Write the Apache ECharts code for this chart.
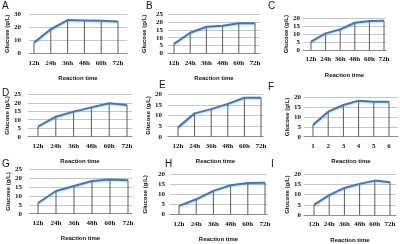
<!DOCTYPE html>
<html>
<head>
<meta charset="utf-8">
<script src="https://cdn.jsdelivr.net/npm/echarts@6/dist/echarts.min.js"></script>
<style>
  html, body { margin: 0; padding: 0; background: #fff; }
  #chart { width: 400px; height: 244px; }
</style>
</head>
<body>
<div id="chart"></div>
<script>
// tick labels
const hours = ['12h', '24h', '36h', '48h', '60h', '72h'];
const steps = ['1', '2', '3', '4', '5', '6'];

// glucose (g/L)
const glucoseA = [8.2, 18.5, 25.6, 25.3, 25.0, 24.5];
const glucoseB = [6.0, 13.2, 17.0, 17.7, 19.2, 19.2];
const glucoseC = [5.3, 10.5, 13.0, 17.2, 18.3, 18.5];
const glucoseD = [5.9, 11.8, 14.8, 17.3, 19.7, 18.7];
const glucoseE = [4.4, 11.0, 13.0, 15.5, 18.4, 18.4];
const glucoseF = [6.0, 12.7, 16.1, 18.3, 17.8, 17.8];
const glucoseG = [6.0, 12.8, 15.6, 18.4, 19.2, 18.8];
const glucoseH = [4.2, 7.5, 11.7, 14.5, 15.7, 15.8];
const glucoseI = [5.0, 9.8, 13.3, 15.3, 16.9, 16.1];

const panelTags = ['A', 'B', 'C', 'D', 'E', 'F', 'G', 'H', 'I'];
const panelCats = [hours, hours, hours, hours, hours, steps, hours, hours, hours];
const panelValues = [glucoseA, glucoseB, glucoseC, glucoseD, glucoseE, glucoseF, glucoseG, glucoseH, glucoseI];
const yMax = [30, 25, 20, 25, 20, 20, 25, 20, 20];
const yStep = [10, 5, 5, 5, 5, 5, 5, 5, 5];

// pixel layout of each panel (plot edges, first/last point, tag spot, gaps)
const layout = [
  { gl: 29,  gr: 127, x1: 34,  x6: 118, top: 14.3,  bottom: 53.3,  tx: 2,   ty: 1,   lm: 8, ng: 15 },
  { gl: 168, gr: 260, x1: 174, x6: 255, top: 14.3,  bottom: 53.3,  tx: 146, ty: 1,   lm: 5, ng: 21 },
  { gl: 303, gr: 386, x1: 311, x6: 384, top: 18.3,  bottom: 50,    tx: 268, ty: 1,   lm: 3, ng: 10 },
  { gl: 28,  gr: 132, x1: 38,  x6: 127, top: 94.3,  bottom: 136.7, tx: 2,   ty: 88,  lm: 7, ng: 14 },
  { gl: 168, gr: 263, x1: 178, x6: 261, top: 94.3,  bottom: 136.7, tx: 159, ty: 80,  lm: 6, ng: 17 },
  { gl: 304, gr: 398, x1: 313, x6: 389, top: 97.3,  bottom: 136.7, tx: 268, ty: 82,  lm: 3, ng: 10 },
  { gl: 29,  gr: 132, x1: 38,  x6: 128, top: 169.3, bottom: 213.7, tx: 2,   ty: 159, lm: 7, ng: 16 },
  { gl: 170, gr: 267, x1: 179, x6: 265, top: 174.3, bottom: 214.3, tx: 165, ty: 159, lm: 5, ng: 22 },
  { gl: 304, gr: 396, x1: 314, x6: 390, top: 174.3, bottom: 217,   tx: 271, ty: 159, lm: 3, ng: 10 }
];

const tickFont = { fontFamily: 'Liberation Serif', fontWeight: 'bold', fontSize: 7, color: '#111' };
const titleFont = { fontFamily: 'Liberation Sans', fontWeight: 'bold', fontSize: 6, color: '#111' };

const myChart = echarts.init(document.getElementById('chart'), null, { renderer: 'canvas' });

const grid = [], xAxis = [], yAxis = [], series = [], graphic = [];

panelTags.forEach(function (tag, i) {
  const L = layout[i];
  const cats = panelCats[i];
  const s = (L.x6 - L.x1) / 5;
  const pts = panelValues[i].map(function (v, k) { return [k + 1, v]; });

  grid.push({ left: L.gl, top: L.top, width: L.gr - L.gl, height: L.bottom - L.top });

  xAxis.push({
    type: 'value',
    gridIndex: i,
    min: 1 - (L.x1 - L.gl) / s,
    max: 6 + (L.gr - L.x6) / s,
    name: 'Reaction time',
    nameLocation: 'middle',
    nameGap: 22,
    nameTextStyle: titleFont,
    axisLine: { show: true, lineStyle: { color: '#8c8c8c', width: 1 } },
    axisTick: { show: false },
    splitLine: { show: false },
    axisLabel: Object.assign({
      margin: 6,
      customValues: [1, 2, 3, 4, 5, 6],
      formatter: function (v) { return cats[Math.round(v) - 1] || ''; }
    }, tickFont)
  });

  yAxis.push({
    type: 'value',
    gridIndex: i,
    min: 0,
    max: yMax[i],
    interval: yStep[i],
    name: 'Glucose (g/L)',
    nameLocation: 'middle',
    nameGap: L.ng,
    nameRotate: 90,
    nameTextStyle: titleFont,
    axisLine: { show: false },
    axisTick: { show: false },
    splitLine: { lineStyle: { color: '#c6c6c6', width: 1 } },
    axisLabel: Object.assign({ margin: L.lm }, tickFont)
  });

  // drop lines from each point down to the axis
  series.push({
    type: 'bar',
    xAxisIndex: i,
    yAxisIndex: i,
    barWidth: 1,
    itemStyle: { color: '#5a5a5a' },
    data: pts,
    z: 1,
    silent: true
  });

  series.push({
    type: 'line',
    xAxisIndex: i,
    yAxisIndex: i,
    data: pts,
    symbol: 'none',
    lineStyle: {
      color: '#3f78b8',
      width: 2,
      shadowColor: 'rgba(79,129,189,0.35)',
      shadowBlur: 2,
      shadowOffsetY: 1
    },
    z: 3,
    silent: true
  });

  graphic.push({
    type: 'text',
    left: L.tx,
    top: L.ty,
    style: { text: tag, font: '10px "Liberation Sans"', fill: '#111' }
  });
});

myChart.setOption({
  animation: false,
  grid: grid,
  xAxis: xAxis,
  yAxis: yAxis,
  series: series,
  graphic: graphic
});
</script>
</body>
</html>
